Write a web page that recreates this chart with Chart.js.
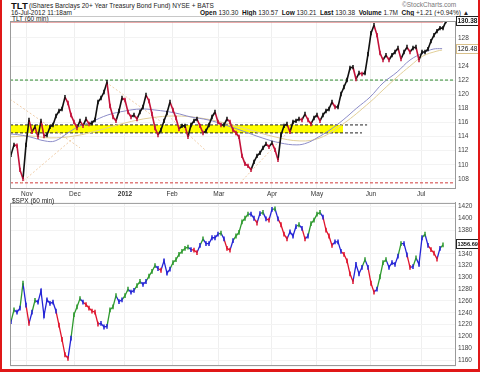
<!DOCTYPE html>
<html>
<head>
<meta charset="utf-8">
<script src="https://cdn.jsdelivr.net/npm/chart.js@4.4.0/dist/chart.umd.min.js"></script>
<style>
  html, body { margin: 0; padding: 0; background: #fff; }
  #wrap { position: relative; width: 480px; height: 372px; overflow: hidden;
          font-family: 'Liberation Sans', Arial, sans-serif; color: #222; }
  #frame { position: absolute; left: 0; top: 0; width: 480px; height: 372px; box-sizing: border-box;
           border: 2px solid #e01818; border-top: none; border-bottom-width: 3px; pointer-events: none; }
  .t { position: absolute; white-space: nowrap; font-size: 6.5px; line-height: 8px; }
  .t b { font-weight: bold; color: #111; }
  canvas { position: absolute; left: 0; }
  #rule { position: absolute; left: 10px; top: 16px; width: 468px; height: 0; border-top: 1px solid #c8c8c8; }
</style>
</head>
<body>
<div id="wrap">
  <div class="t" style="left:11px;top:0px;font-size:9.5px;line-height:11px;"><b>TLT</b></div>
  <div class="t" style="left:29px;top:2px;">(iShares Barclays 20+ Year Treasury Bond Fund) NYSE + BATS</div>
  <div class="t" style="left:402px;top:1px;color:#777;">&copy;StockCharts.com</div>
  <div class="t" style="left:11px;top:9px;">16-Jul-2012 11:18am</div>
  <div class="t" style="left:200px;top:9px;"><b>Open</b> 130.30 &nbsp;<b>High</b> 130.57 &nbsp;<b>Low</b> 130.21 &nbsp;<b>Last</b> 130.38 &nbsp;<b>Volume</b> 1.7M &nbsp;<b>Chg</b> +1.21 (+0.94%) &#9650;</div>
  <div id="rule"></div>
  <div class="t" style="left:12px;top:14.5px;">TLT (60 min)</div>
  <canvas id="top" width="480" height="200" style="top:0px"></canvas>
  <canvas id="bot" width="480" height="176" style="top:196px"></canvas>
  <div class="t" style="left:12px;top:197px;">$SPX (60 min)</div>
  <div id="frame"></div>
</div>
<script>
// ── data (x = sample index, ~3 px / ~9 hourly bars apart) ────────────
const monthLabels = ['Nov', 'Dec', '2012', 'Feb', 'Mar', 'Apr', 'May', 'Jun', 'Jul'];
const monthPos    = [5.3, 21.3, 38, 53.7, 69.3, 87, 102, 120, 136.7];

const tltTicks = [108, 110, 112, 114, 116, 118, 120, 122, 124, 128];
const spxTicks = [1160, 1180, 1200, 1220, 1240, 1260, 1280, 1300, 1320, 1340, 1380, 1400, 1420];

const tltClose = [
  111.40, 112.82, 112.70, 109.27, 108.00, 112.82, 116.36, 114.66, 115.37, 113.95,
  116.22, 114.09, 114.23, 115.37, 115.65, 116.92, 117.63, 117.91, 119.60, 118.76,
  117.07, 116.07, 115.22, 116.22, 115.51, 116.50, 115.79, 115.93, 116.36, 118.90,
  119.47, 120.32, 121.70, 118.34, 116.78, 116.22, 117.63, 119.47, 119.19, 117.49,
  116.78, 117.07, 116.50, 117.49, 118.20, 119.90, 119.05, 117.20, 115.22, 114.23,
  114.94, 116.22, 117.35, 118.90, 117.77, 116.64, 115.08, 115.51, 115.51, 113.95,
  115.65, 116.22, 116.50, 115.51, 114.51, 114.80, 115.65, 116.78, 117.49, 116.07,
  115.65, 115.65, 116.50, 116.07, 114.94, 114.51, 113.95, 111.26, 110.12, 109.84,
  109.27, 110.41, 111.26, 111.68, 112.39, 112.96, 112.54, 113.10, 112.11, 110.69,
  114.23, 115.51, 115.79, 114.66, 116.07, 116.22, 116.50, 116.36, 117.20, 116.36,
  115.79, 116.64, 117.07, 116.22, 117.07, 117.63, 117.91, 118.90, 118.20, 118.20,
  120.04, 121.03, 122.02, 123.72, 123.86, 122.16, 123.01, 122.87, 123.01, 125.70,
  128.68, 129.81, 128.40, 125.85, 124.86, 125.56, 124.86, 125.56, 125.99, 126.56,
  125.00, 125.99, 126.70, 125.99, 126.56, 126.70, 124.86, 125.99, 125.99, 126.41,
  127.55, 128.40, 128.96, 129.39, 129.39, 130.38
];

const spxClose = [
  1225, 1245, 1241, 1248, 1290, 1253, 1222, 1241, 1261, 1258,
  1277, 1235, 1262, 1256, 1258, 1243, 1219, 1195, 1169, 1163,
  1197, 1237, 1250, 1264, 1258, 1254, 1248, 1243, 1241, 1221,
  1222, 1216, 1217, 1245, 1250, 1269, 1259, 1262, 1269, 1280,
  1275, 1278, 1286, 1293, 1288, 1293, 1302, 1310, 1320, 1315,
  1312, 1328, 1307, 1314, 1325, 1330, 1339, 1344, 1349, 1351,
  1347, 1346, 1342, 1354, 1365, 1357, 1357, 1367, 1367, 1373,
  1375, 1365, 1349, 1346, 1362, 1370, 1376, 1394, 1400, 1407,
  1407, 1400, 1392, 1408, 1410, 1399, 1397, 1415, 1416, 1399,
  1389, 1373, 1365, 1377, 1370, 1386, 1389, 1383, 1365, 1370,
  1391, 1397, 1407, 1410, 1402, 1380, 1370, 1354, 1360, 1360,
  1344, 1339, 1328, 1306, 1293, 1322, 1306, 1317, 1330, 1317,
  1290, 1275, 1280, 1301, 1325, 1330, 1317, 1325, 1322, 1336,
  1357, 1357, 1338, 1317, 1318, 1333, 1322, 1367, 1373, 1354,
  1347, 1341, 1331, 1349, 1355
];

// moving averages on TLT (read at a coarser step)
const maBlueX = [-0.3, 3, 6.3, 11.3, 14.7, 19, 22.3, 26.7, 32.3, 38, 43.3, 48, 54.7, 60, 65.7, 71.3,
                 76.3, 83.7, 89.7, 95.3, 98.7, 102, 106.3, 110.7, 115.3, 119.7, 124, 128.7, 133, 137.3, 140.7, 143.7];
const maBlue  = [114.37, 114.23, 113.95, 113.38, 113.38, 114.52, 115.37, 116.07, 117.07, 117.63, 117.91, 117.77,
                 117.35, 116.78, 116.36, 115.65, 114.94, 113.81, 113.10, 112.82, 113.10, 113.81, 114.94, 116.36,
                 118.06, 119.61, 121.60, 123.16, 124.86, 125.85, 126.41, 126.48];
const maTanX  = [-0.3, 6.3, 13, 21.3, 29.7, 38, 46.3, 54.7, 63, 71.3, 79.7, 88, 96.3, 103, 110.7,
                 119.7, 124, 128.7, 133, 137.3, 142, 143.7];
const maTan   = [113.95, 114.09, 113.81, 114.09, 114.94, 115.93, 116.64, 116.92, 116.64, 115.93, 114.94,
                 113.95, 113.38, 113.81, 115.79, 118.90, 120.61, 122.45, 124.00, 125.42, 126.13, 126.27];

// chartist's trend lines: [x0, x1] / [y0, y1]
const trendX = [[-0.3, 23], [3.3, 21.3], [31.7, 49.7], [53.3, 64.7], [76.3, 92]];
const trendY = [[119.3, 112.4], [107.4, 113.95], [121.7, 116.2], [116.6, 112.1], [107.4, 114.5]];

// horizontal levels
const bandTop = 115.65, bandBottom = 114.52, bandEnd = 110.7;
const greenLevel = 122.02, lowLevel = 107.43, highLevel = 130.24;
const tltLast = 130.38, tltMaLast = 126.48, spxLast = 1356.69;

// ── helpers ──────────────────────────────────────────────────────────
const X_MIN = -0.33, X_MAX = 148;
const FONT = "'Liberation Sans', Arial, sans-serif";
const pts = (xs, ys) => xs.map((x, i) => ({ x, y: ys[i] }));
const series = (ys) => ys.map((y, i) => ({ x: i, y }));

function hline(y, x0, x1, color, dash, width = 1) {
  return {
    type: 'line', data: [{ x: x0, y }, { x: x1, y }],
    borderColor: color, borderWidth: width, borderDash: dash || [],
    pointRadius: 0, fill: false,
  };
}

function xScale(showLabels) {
  return {
    type: 'linear', min: X_MIN, max: X_MAX, position: 'bottom',
    afterBuildTicks: s => { s.ticks = monthPos.map(v => ({ value: v })); },
    afterFit: s => { s.height = showLabels ? 12 : 4; },
    grid: { color: '#efefef', drawTicks: false },
    border: { color: '#9a9a9a' },
    ticks: {
      display: showLabels, autoSkip: false, maxRotation: 0, padding: 2, color: '#333',
      font: c => ({ family: FONT, size: 6.5, weight: c.tick && c.tick.label === '2012' ? 'bold' : 'normal' }),
      callback: v => monthLabels[monthPos.indexOf(v)],
    },
  };
}

function yScale(min, max, ticks) {
  return {
    type: 'linear', position: 'right', min, max,
    afterBuildTicks: s => { s.ticks = ticks.map(v => ({ value: v })); },
    afterFit: s => { s.width = 25; },
    grid: { color: '#f3f3f3', drawTicks: false },
    border: { color: '#9a9a9a' },
    ticks: { padding: 3, color: '#444', font: { family: FONT, size: 6.5 }, callback: v => String(v) },
  };
}

// panel border + value boxes on the right axis
function panelPlugin(boxes) {
  return {
    id: 'panel',
    afterDraw(chart) {
      const { ctx, chartArea: a } = chart;
      const y = chart.scales.y;
      ctx.save();
      ctx.strokeStyle = '#9a9a9a';
      ctx.lineWidth = 1;
      ctx.strokeRect(a.left + 0.5, a.top + 0.5, a.right - a.left, a.bottom - a.top);
      boxes.forEach(b => {
        const py = Math.round(y.getPixelForValue(b.value));
        ctx.fillStyle = '#fff';
        ctx.strokeStyle = b.border;
        ctx.fillRect(a.right + 1.5, py - 4.5, 22, 9);
        ctx.strokeRect(a.right + 1.5, py - 4.5, 22, 9);
        ctx.fillStyle = '#111';
        ctx.font = (b.bold ? 'bold ' : '') + (b.size || 6.5) + 'px ' + FONT;
        ctx.textBaseline = 'middle';
        ctx.fillText(b.text, a.right + 2.5, py + 0.5, 20.5);
      });
      ctx.restore();
    },
  };
}

const baseOpts = {
  responsive: false, animation: false, devicePixelRatio: 1,
  plugins: { legend: { display: false }, tooltip: { enabled: false } },
  elements: { point: { radius: 0 }, line: { tension: 0 } },
};

// ── TLT panel ────────────────────────────────────────────────────────
const tltUpDown = (i) => (i > 0 && tltClose[i] < tltClose[i - 1]) ? '#c3123a' : '#111';
const tltDatasets = [
  {
    type: 'line', data: series(tltClose), borderWidth: 1.6, pointRadius: 0,
    borderColor: '#111',
    pointStyle: 'line', pointRotation: 90, pointBorderWidth: 1.5,
    pointRadius: 2.2, pointBorderColor: c => tltUpDown(c.dataIndex),
    segment: { borderColor: c => tltUpDown(c.p1DataIndex) },
  },
  { type: 'line', data: pts(maBlueX, maBlue), borderColor: '#8c8cc8', borderWidth: 1, pointRadius: 0, tension: 0.4 },
  { type: 'line', data: pts(maTanX, maTan), borderColor: '#e2cf98', borderWidth: 1, pointRadius: 0, tension: 0.4 },
  ...trendX.map((xs, i) => ({
    type: 'line', data: pts(xs, trendY[i]), borderColor: 'rgba(235,190,140,0.75)',
    borderWidth: 1, borderDash: [2, 2], pointRadius: 0,
  })),
  hline(tltLast, 144, X_MAX, '#2e9a2e'),
  hline(highLevel, X_MIN, 144, '#e07a7a'),
  hline(greenLevel, X_MIN, X_MAX, '#2e8a2e', [3, 2]),
  hline(lowLevel, X_MIN, X_MAX, '#d03a3a', [3, 2]),
  hline(bandTop, X_MIN, 118.7, '#222', [3, 2]),
  hline(bandBottom, X_MIN, 117, '#222', [3, 2]),
  {
    type: 'line', data: [{ x: X_MIN, y: bandTop }, { x: bandEnd, y: bandTop }],
    borderWidth: 0, pointRadius: 0, backgroundColor: '#ffff00', fill: { value: bandBottom },
  },
];

new Chart(document.getElementById('top'), {
  type: 'line',
  data: { datasets: tltDatasets },
  options: {
    ...baseOpts,
    layout: { padding: { left: 10, top: 21, right: 0, bottom: 0 } },
    scales: { x: xScale(true), y: yScale(106.7, 130.4, tltTicks) },
  },
  plugins: [panelPlugin([
    { value: tltLast, text: '130.38', border: '#222', bold: true },
    { value: tltMaLast, text: '126.48', border: '#d9c08a', bold: false },
  ])],
});

// ── SPX panel ────────────────────────────────────────────────────────
const GREEN = '#2f9a2f', RED = '#e0142c', BLUE = '#2424d6';
function spxColorAt(i) {
  if (i < 1) return BLUE;
  const d1 = spxClose[i] - spxClose[i - 1];
  const d0 = i > 1 ? spxClose[i - 1] - spxClose[i - 2] : d1;
  if (d1 > 0 && d0 > 0) return GREEN;
  if (d1 < 0 && d0 < 0) return RED;
  return BLUE;
}

new Chart(document.getElementById('bot'), {
  type: 'line',
  data: {
    datasets: [{
      type: 'line', data: series(spxClose), borderWidth: 1.3,
      borderColor: GREEN, segment: { borderColor: c => spxColorAt(c.p1DataIndex) },
      pointStyle: 'line', pointRotation: 90, pointRadius: 2.4, pointBorderWidth: 1.5,
      pointBorderColor: c => spxColorAt(c.dataIndex),
    }],
  },
  options: {
    ...baseOpts,
    layout: { padding: { left: 10, top: 1, right: 0, bottom: 0 } },
    scales: { x: xScale(false), y: yScale(1151.5, 1426, spxTicks) },
  },
  plugins: [panelPlugin([
    { value: spxLast, text: '1356.69', border: '#222', bold: true, size: 6 },
  ])],
});
</script>
</body>
</html>
